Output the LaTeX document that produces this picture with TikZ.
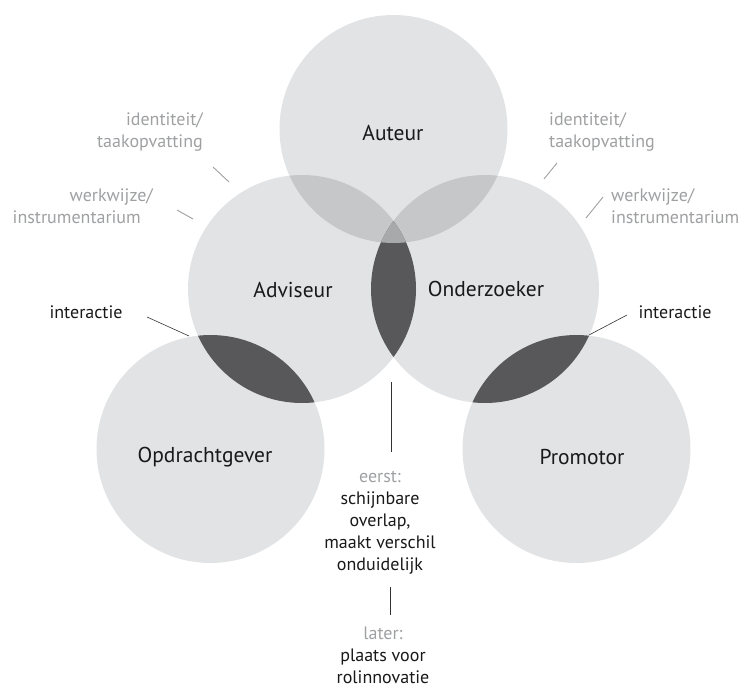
\documentclass[tikz,border=0pt]{standalone}
\usepackage{fontspec}
\setmainfont{PT Sans}
\usetikzlibrary{positioning}
\definecolor{lichtgrijs}{HTML}{E2E3E4}
\definecolor{middengrijs}{HTML}{C6C7C9}
\definecolor{driegrijs}{HTML}{A8A9AB}
\definecolor{donkergrijs}{HTML}{58585A}
\definecolor{tekstgrijs}{HTML}{9FA0A2}
\tikzset{
  rol/.style={inner sep=0pt, font=\fontsize{21.5}{24}\selectfont, text=black!90},
  ro/.style={inner sep=0pt, font=\fontsize{18}{22}\selectfont, text=black!90},
  gr/.style={inner sep=0pt, font=\fontsize{18}{21.5}\selectfont, text=tekstgrijs},
  st/.style={draw=tekstgrijs, line width=0.9pt},
  zw/.style={draw=black!80, line width=0.6pt}
}

\begin{document}
\begin{tikzpicture}[x=1pt,y=-1pt]
  \useasboundingbox (0,0) rectangle (743,690);
  \def\r{114pt}
  \coordinate (aut) at (393.5,129);
  \coordinate (adv) at (302,289);
  \coordinate (ond) at (485,289);
  \coordinate (opd) at (210.5,449);
  \coordinate (pro) at (576.5,449);

  % cirkels en overlappingen
  \foreach \c in {aut,adv,ond,opd,pro}
    \fill[lichtgrijs] (\c) circle (\r);
  \begin{scope}
    \clip (aut) circle (\r);
    \fill[middengrijs] (adv) circle (\r);
    \fill[middengrijs] (ond) circle (\r);
  \end{scope}
  \begin{scope}
    \clip (adv) circle (\r);
    \fill[donkergrijs] (ond) circle (\r);
    \fill[donkergrijs] (opd) circle (\r);
    \clip (aut) circle (\r);
    \fill[driegrijs] (ond) circle (\r);
  \end{scope}
  \begin{scope}
    \clip (ond) circle (\r);
    \fill[donkergrijs] (pro) circle (\r);
  \end{scope}

  % rollen
  \node[rol] (nAut) at (393,133) {Auteur};
  \node[rol] (nAdv) at (293,290) {Adviseur};
  \node[rol] (nOnd) at (486,289) {Onderzoeker};
  \node[rol] (nOpd) at (205,457) {Opdrachtgever};
  \node[rol] (nPro) at (582,457) {Promotor};

  % grijze toelichting
  \node[gr, align=right, anchor=east] (idL) at (203,132) {identiteit/\\taakopvatting};
  \node[gr, align=right, anchor=east] (wwL) at (153,206) {werkwijze/\\instrumentarium\hspace*{12pt}};
  \node[gr, align=left, anchor=west] (idR) at (549,132) {identiteit/\\taakopvatting};
  \node[gr, align=left, anchor=west] (wwR) at (611,206) {werkwijze/\\instrumentarium};

  \node[ro] (intL) at (86,312) {interactie};
  \node[ro] (intR) at (675,312) {interactie};

  \node[ro, align=center] (eerst) at (380,523)
    {\textcolor{tekstgrijs}{eerst:}\\schijnbare\\overlap,\\maakt verschil\\onduidelijk};
  \node[ro, align=center] (later) at (383,655)
    {\textcolor{tekstgrijs}{later:}\\plaats voor\\rolinnovatie};

  % streepjes
  \coordinate (tIdL) at (213,167);  \coordinate (cIdL) at (229,182);
  \coordinate (tWwL) at (177,210);  \coordinate (cWwL) at (193,219);
  \coordinate (tIdR) at (557,163);  \coordinate (cIdR) at (544,179);
  \coordinate (tWwR) at (603,197);  \coordinate (cWwR) at (586,218);
  \coordinate (tIntL) at (147,317); \coordinate (cIntL) at (189,336);
  \coordinate (tIntR) at (627,315); \coordinate (cIntR) at (589,335);
  \coordinate (lens) at (391,382);  \coordinate (tEerst) at (391,452);
  \coordinate (bEerst) at (390,587); \coordinate (tLater) at (390,615);

  \draw[st] (tIdL) -- (cIdL);
  \draw[st] (tWwL) -- (cWwL);
  \draw[st] (tIdR) -- (cIdR);
  \draw[st] (tWwR) -- (cWwR);
  \draw[zw] (tIntL) -- (cIntL);
  \draw[zw] (tIntR) -- (cIntR);
  \draw[zw] (lens) -- (tEerst);
  \draw[zw] (bEerst) -- (tLater);
\end{tikzpicture}
\end{document}
